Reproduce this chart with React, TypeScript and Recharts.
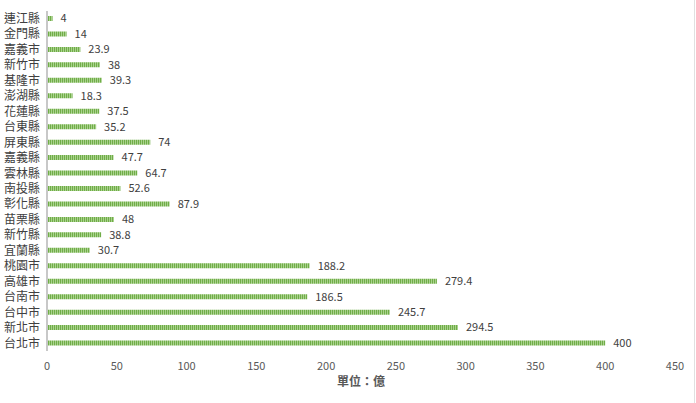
import React from "react";
import { BarChart, Bar, XAxis, YAxis, LabelList } from "recharts";

// 各縣市數值（單位：億），由上而下
const counties = [
  "連江縣", "金門縣", "嘉義市", "新竹市", "基隆市", "澎湖縣", "花蓮縣", "台東縣",
  "屏東縣", "嘉義縣", "雲林縣", "南投縣", "彰化縣", "苗栗縣", "新竹縣", "宜蘭縣",
  "桃園市", "高雄市", "台南市", "台中市", "新北市", "台北市",
];
const amounts = [
  4, 14, 23.9, 38, 39.3, 18.3, 37.5, 35.2,
  74, 47.7, 64.7, 52.6, 87.9, 48, 38.8, 30.7,
  188.2, 279.4, 186.5, 245.7, 294.5, 400,
];
const xTicks = [0, 50, 100, 150, 200, 250, 300, 350, 400, 450];

const data = counties.map((name, i) => ({ name, value: amounts[i] }));

const FONT = '"Noto Sans CJK TC", "Noto Sans", sans-serif';

export default function App() {
  return (
    <div
      style={{
        position: "absolute",
        left: 0,
        top: 0,
        width: 696,
        height: 403,
        background: "#fff",
        fontFamily: FONT,
      }}
    >
      <BarChart
        layout="vertical"
        width={696}
        height={403}
        data={data}
        margin={{ top: 11, right: 21, bottom: 12, left: 0 }}
      >
        <defs>
          <pattern id="stripes" width="2" height="4" patternUnits="userSpaceOnUse">
            <rect x="0" y="0" width="1" height="4" fill="#70AD47" />
            <rect x="1" y="0" width="1" height="4" fill="#A9D18E" />
          </pattern>
        </defs>
        <XAxis
          type="number"
          domain={[0, 450]}
          ticks={xTicks}
          axisLine={false}
          tickLine={false}
          tickMargin={5}
          height={40}
          tick={{ fill: "#595959", fontSize: 11, fontFamily: FONT }}
          label={{
            value: "單位：億",
            position: "insideBottom",
            offset: 5,
            fill: "#595959",
            fontSize: 12,
            fontWeight: "bold",
            fontFamily: FONT,
          }}
        />
        <YAxis
          type="category"
          dataKey="name"
          width={47}
          axisLine={{ stroke: "#c8c8c8", strokeWidth: 2 }}
          tickLine={false}
          tickSize={0}
          tickMargin={7}
          interval={0}
          tick={{ fill: "#404040", fontSize: 12, fontFamily: FONT }}
        />
        <Bar dataKey="value" fill="url(#stripes)" barSize={5} isAnimationActive={false}>
          <LabelList
            dataKey="value"
            position="right"
            offset={8}
            fill="#404040"
            fontSize={11}
            fontFamily={FONT}
          />
        </Bar>
      </BarChart>
      <div
        style={{
          position: "absolute",
          right: 1,
          top: 0,
          width: 1,
          height: 403,
          background: "#e0e0e0",
        }}
      />
    </div>
  );
}
